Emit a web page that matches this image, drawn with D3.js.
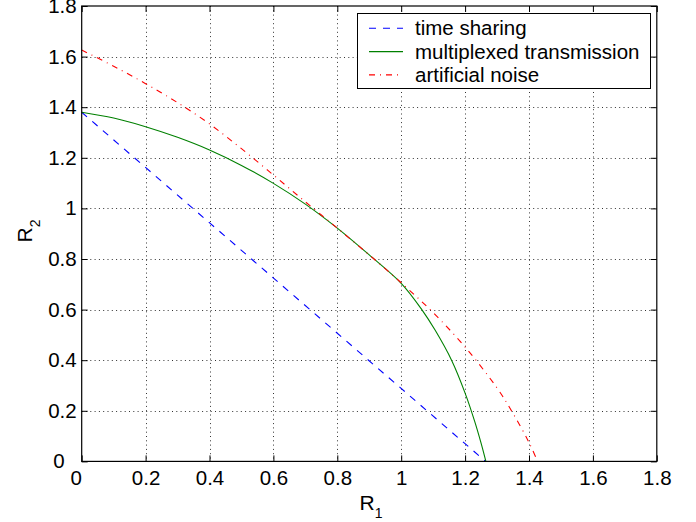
<!DOCTYPE html>
<html>
<head>
<meta charset="utf-8">
<script src="https://d3js.org/d3.v7.min.js"></script>
<style>
  body { margin: 0; background: #fff; }
  text { font-family: "Liberation Sans", Arial, Helvetica, sans-serif; }
</style>
</head>
<body>
<svg id="chart" width="696" height="522"></svg>
<script>

// ticks
var xTicks = [0, 0.2, 0.4, 0.6, 0.8, 1, 1.2, 1.4, 1.6, 1.8];
var yTicks = [0, 0.2, 0.4, 0.6, 0.8, 1, 1.2, 1.4, 1.6, 1.8];

// time sharing (straight line between the two corner points)
var tsR1 = [0, 1.264];
var tsR2 = [1.38, 0];

// multiplexed transmission
var mtR1 = [0, 0.1, 0.2, 0.3, 0.4, 0.5, 0.6, 0.7, 0.8, 0.9, 1.0, 1.064, 1.106, 1.158, 1.2, 1.23, 1.25, 1.265];
var mtR2 = [1.38, 1.357, 1.323, 1.281, 1.231, 1.170, 1.099, 1.017, 0.922, 0.816, 0.704, 0.601, 0.519, 0.399, 0.27, 0.158, 0.072, 0];

// artificial noise
var anR1 = [0, 0.1, 0.2, 0.3, 0.4, 0.5, 0.6, 0.7, 0.8, 0.9, 1.0, 1.1, 1.2, 1.3, 1.35, 1.4, 1.427];
var anR2 = [1.626, 1.562, 1.493, 1.418, 1.334, 1.236, 1.132, 1.026, 0.922, 0.816, 0.706, 0.588, 0.452, 0.29, 0.19, 0.075, 0];

var legendNames = ["time sharing", "multiplexed transmission", "artificial noise"];
var colors = ["#0000ff", "#008000", "#ff0000"];
var dashes = ["7,7", null, "6,5,1,5"];

var svg = d3.select("#chart");
var pLeft = 81.7, pRight = 656.8, pTop = 6, pBottom = 461.4;
var fs = 20.5;

var x = d3.scaleLinear().domain([0, 1.8]).range([pLeft, pRight]);
var y = d3.scaleLinear().domain([0, 1.8]).range([pBottom, pTop]);

svg.append("rect").attr("width", 696).attr("height", 522).attr("fill", "#fff");

// dotted grid
var grid = svg.append("g").attr("stroke", "#333").attr("stroke-width", 1)
  .attr("stroke-dasharray", "1,3.3");
grid.selectAll(".gx").data(xTicks.slice(1, -1)).enter().append("line")
  .attr("x1", d => Math.round(x(d)) + 0.5).attr("x2", d => Math.round(x(d)) + 0.5)
  .attr("y1", pTop).attr("y2", pBottom);
grid.selectAll(".gy").data(yTicks.slice(1, -1)).enter().append("line")
  .attr("y1", d => Math.round(y(d)) + 0.5).attr("y2", d => Math.round(y(d)) + 0.5)
  .attr("x1", pLeft).attr("x2", pRight);

// axes, ticks pointing inwards on all four sides
function styleAxis(g) {
  g.select(".domain").remove();
  g.selectAll("line").attr("stroke", "#000");
  g.selectAll("text").attr("font-size", fs).attr("fill", "#000")
    .attr("font-family", "Liberation Sans, Arial, sans-serif");
}

var xAxis = svg.append("g").attr("transform", "translate(0," + pBottom + ")")
  .call(d3.axisBottom(x).tickValues(xTicks).tickFormat(d3.format("~g"))
        .tickSizeInner(-6).tickSizeOuter(0).tickPadding(9))
  .call(styleAxis);
xAxis.selectAll(".tick text").filter(d => d === 0).attr("dx", -6);

var yAxis = svg.append("g").attr("transform", "translate(" + pLeft + ",0)")
  .call(d3.axisLeft(y).tickValues(yTicks).tickFormat(d3.format("~g"))
        .tickSizeInner(-6).tickSizeOuter(0).tickPadding(5))
  .call(styleAxis);
yAxis.selectAll(".tick text").filter(d => d === 0).attr("dx", -12);

svg.append("g").attr("transform", "translate(0," + pTop + ")")
  .call(d3.axisTop(x).tickValues(xTicks).tickFormat("").tickSizeInner(-6).tickSizeOuter(0))
  .call(styleAxis);
svg.append("g").attr("transform", "translate(" + pRight + ",0)")
  .call(d3.axisRight(y).tickValues(yTicks).tickFormat("").tickSizeInner(-6).tickSizeOuter(0))
  .call(styleAxis);

// curves
var series = [
  d3.zip(tsR1, tsR2),
  d3.zip(mtR1, mtR2),
  d3.zip(anR1, anR2)
];
var line = d3.line().x(d => x(d[0])).y(d => y(d[1])).curve(d3.curveCatmullRom.alpha(0.5));

series.forEach(function (pts, i) {
  svg.append("path").datum(pts)
    .attr("fill", "none")
    .attr("stroke", colors[i])
    .attr("stroke-width", 1.1)
    .attr("stroke-dasharray", dashes[i])
    .attr("d", line);
});

// box
svg.append("rect").attr("x", pLeft).attr("y", pTop)
  .attr("width", pRight - pLeft).attr("height", pBottom - pTop)
  .attr("fill", "none").attr("stroke", "#000").attr("stroke-width", 1.2);

// axis labels
var xl = svg.append("text").attr("x", 371).attr("y", 510)
  .attr("text-anchor", "middle").attr("font-size", 21);
xl.append("tspan").text("R");
xl.append("tspan").attr("font-size", 14).attr("dy", 8).text("1");

var yl = svg.append("text").attr("transform", "translate(32,231) rotate(-90)")
  .attr("text-anchor", "middle").attr("font-size", 21);
yl.append("tspan").text("R");
yl.append("tspan").attr("font-size", 14).attr("dy", 8).text("2");

// legend
var lg = svg.append("g");
lg.append("rect").attr("x", 357.5).attr("y", 13.5).attr("width", 293).attr("height", 75)
  .attr("fill", "#fff").attr("stroke", "#000").attr("stroke-width", 1);
var rows = lg.selectAll(".row").data(legendNames).enter().append("g")
  .attr("transform", (d, i) => "translate(0," + (28.3 + i * 23.3) + ")");
rows.append("line").attr("x1", 369).attr("x2", 403)
  .attr("stroke", (d, i) => colors[i]).attr("stroke-width", 1.1)
  .attr("stroke-dasharray", (d, i) => dashes[i]);
rows.append("text").attr("x", 415).attr("dy", "0.35em")
  .attr("font-size", 20.5).text(d => d);

</script>
</body>
</html>
